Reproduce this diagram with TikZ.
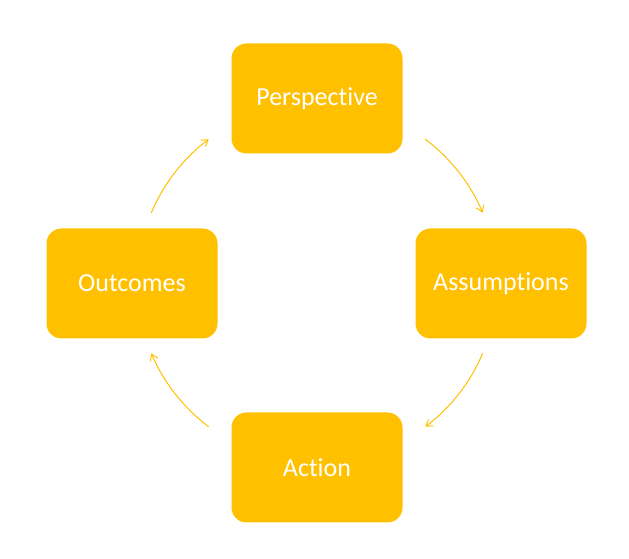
\documentclass[tikz,border=0pt]{standalone}
\usepackage{fontspec}
\setmainfont{Carlito}[Ligatures=NoCommon]
\usetikzlibrary{arrows.meta,calc}
\definecolor{gold}{HTML}{FFC000}
\begin{document}
\begin{tikzpicture}[x=1pt,y=1pt,
  box/.style={fill=gold,rounded corners=15pt,minimum width=171pt,minimum height=110pt,inner sep=0pt,text=white,font=\fontsize{26}{30}\selectfont},
  arr/.style={draw=gold,line width=1pt,-{Straight Barb[length=6pt,width=8pt]}}]
\useasboundingbox (0,0) rectangle (629,559);
\node[box] (p) at (317,460.5) {Perspective};
\node[box] (a) at (501,275.5) {Assumptions};
\node[box] (ac) at (317,91.5) {Action};
\node[box] (o) at (132,275.5) {Outcomes};
\coordinate (c) at (317,276);
\draw[arr] ($(c)+(53:180)$) arc[start angle=53,end angle=23,radius=180];
\draw[arr] ($(c)+(-23:180)$) arc[start angle=-23,end angle=-53,radius=180];
\draw[arr] ($(c)+(-127:180)$) arc[start angle=-127,end angle=-157,radius=180];
\draw[arr] ($(c)+(157:180)$) arc[start angle=157,end angle=127,radius=180];
\end{tikzpicture}
\end{document}
